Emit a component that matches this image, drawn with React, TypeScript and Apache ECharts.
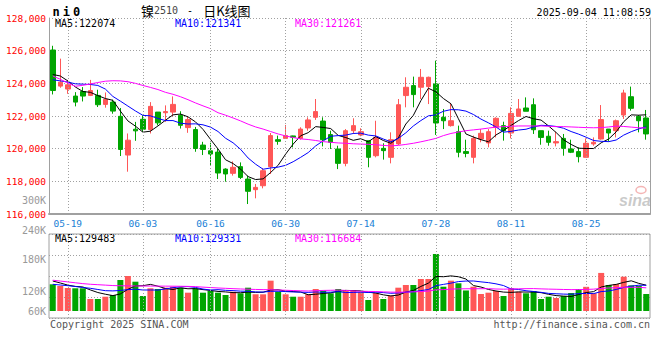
import React, { useEffect, useRef } from 'react';
import * as echarts from 'echarts';

// ---------- data ----------
const dates = ['05-15','05-16','05-19','05-20','05-21','05-22','05-23','05-26','05-27','05-28','05-29','05-30',
  '06-03','06-04','06-05','06-06','06-09','06-10','06-11','06-12','06-13','06-16','06-17','06-18','06-19','06-20',
  '06-23','06-24','06-25','06-26','06-27','06-30','07-01','07-02','07-03','07-04','07-07','07-08','07-09','07-10',
  '07-11','07-14','07-15','07-16','07-17','07-18','07-21','07-22','07-23','07-24','07-25','07-28','07-29','07-30',
  '07-31','08-01','08-04','08-05','08-06','08-07','08-08','08-11','08-12','08-13','08-14','08-15','08-18','08-19',
  '08-20','08-21','08-22','08-25','08-26','08-27','08-28','08-29','09-01','09-02','09-03','09-04'];

const opens = [126040,123830,123650,123220,123500,123260,123260,122710,122850,121980,
  119610,121190,121800,121170,122240,122200,122240,122040,121290,121170,
  120220,119870,119790,118750,118490,118900,118140,117490,117730,118900,
  120550,120630,120780,120630,121270,121920,121690,120860,119980,119100,
  121100,120840,120490,119570,120020,119470,120290,123250,123860,123760,
  123800,123960,121920,121410,121040,119820,119470,120590,120350,121310,
  121410,120960,121980,122490,122690,121100,120760,120350,120630,119980,
  119820,119470,120290,120590,121200,121100,122060,123180,121980,121880];

const closes = [123560,124070,123910,122850,123220,123560,122690,123020,122300,119950,
  120520,121090,121190,122590,121580,122270,122710,121430,121780,120010,
  119950,119670,118510,118450,118860,118240,117390,117630,118650,120800,
  120450,120800,120700,121200,121760,122270,120550,120390,119100,121100,
  121410,121040,119470,120690,119880,120550,122690,123760,123310,124370,
  124370,121570,121710,121710,119780,119710,120630,120940,121040,121860,
  121100,122160,122430,122290,121160,120690,120390,120430,120020,119780,
  119510,120330,120390,121780,120960,121710,123410,122470,121710,120900];

const lows = [123320,123730,123360,122590,122890,123220,122550,122510,122140,119550,
  118590,120480,121030,120930,121430,121640,121980,121230,120970,119810,
  119610,119000,118140,117980,118350,118140,116610,116960,117570,118450,
  120240,120590,120080,120550,121100,121760,120140,119980,118750,118920,
  120900,120760,118860,119470,119330,119100,120220,122530,122530,123040,
  122730,120840,121200,121350,119470,119470,119100,120390,120080,120690,
  120490,120630,121980,122290,120900,120240,120180,120140,119570,119730,
  119160,119470,120180,120550,120430,120690,121820,122330,121000,120550];

const highs = [126300,125510,124210,123460,123770,124210,123610,123440,123000,122490,
  120930,121640,122040,122850,122240,122650,123200,122290,121940,121330,
  120420,120360,120010,118800,119220,119160,118350,117840,118800,120960,
  120800,121450,120800,121310,121920,123040,121920,121100,120180,121200,
  121860,121250,120490,121710,120330,121000,123040,124370,124410,124880,
  124410,125390,122430,122800,121410,120550,120800,121200,121200,121920,
  121650,122530,123040,123140,123080,121100,121100,121040,120900,120550,
  120080,120630,120690,122670,121200,121780,123610,123800,122060,122370];

const ma5 = [124540,124450,124150,123780,123500,123450,123250,123070,122960,122300,
  121700,121380,121010,121070,121390,121740,122070,122120,121950,121640,
  121180,120570,119980,119320,119090,118750,118290,118110,118150,118540,
  118980,119670,120280,120790,120980,121350,121300,121230,120810,120680,
  120510,120610,120420,120740,120500,120330,120660,121510,122040,122940,
  123700,123480,123070,122750,121830,120900,120710,120550,120420,120840,
  121110,121420,121720,121970,121830,121750,121390,120990,120540,120260,
  120030,120010,120010,120360,120590,121030,121650,122070,122050,122074];

const ma10 = [124220,124150,124080,123970,123950,123930,123870,123650,123200,122910,
  122610,122310,122040,122010,121850,121720,121720,121560,121510,121520,
  121460,121320,121050,120640,120360,119960,119430,119050,118740,118820,
  118870,118980,119200,119470,119760,120170,120480,120760,120800,120830,
  120930,120950,120830,120780,120590,120420,120630,120970,121390,121720,
  122010,122070,122290,122390,122380,122300,122090,121810,121580,121330,
  121010,121060,121140,121190,121330,121430,121410,121360,121250,121050,
  120890,120700,120500,120450,120430,120530,120830,121040,121210,121341];

const ma30 = [124450,124250,124020,123820,123880,123960,124050,124130,124160,124150,
  124100,124000,123870,123750,123620,123450,123330,123180,123000,122800,
  122620,122450,122200,122050,121880,121700,121500,121330,121200,121050,
  120900,120780,120680,120600,120560,120500,120430,120390,120350,120330,
  120300,120280,120265,120240,120200,120170,120200,120260,120330,120420,
  120520,120630,120800,120930,121020,121100,121150,121200,121260,121320,
  121350,121370,121390,121390,121390,121390,121370,121350,121350,121330,
  121310,121290,121280,121290,121330,121380,121360,121320,121280,121261];

// volumes in thousands (K)
const volumes = [122.4,118.5,113.8,113.1,113.1,88.1,88.1,93.4,97.4,132.5,
  141.8,128.5,95.1,113.1,111.4,114.5,116.8,114.5,102.8,113.1,
  102.8,106.8,102.8,97.4,105.1,101.4,114.5,99.0,99.0,130.9,
  105.1,99.0,93.4,93.4,99.0,111.4,107.5,101.4,111.4,109.1,
  109.1,104.0,85.7,102.0,88.1,96.0,114.5,120.8,120.8,134.8,
  134.8,193.3,116.8,130.9,124.8,108.0,116.8,99.7,102.8,106.8,
  95.1,113.1,105.1,101.4,106.8,88.1,93.4,90.4,95.1,102.0,
  111.4,116.5,101.4,149.0,120.8,123.1,140.2,120.0,118.8,99.7];

const volMa5 = [130.1,125.5,120.5,117.5,116.2,109.3,103.2,99.2,96.0,99.9,
  110.6,118.7,119.1,122.2,118.0,112.5,110.2,114.1,112.0,112.3,
  110.0,108.0,105.7,104.6,103.0,102.7,104.2,103.5,103.8,109.0,
  109.7,106.6,105.5,104.4,98.0,99.2,100.9,102.5,106.1,108.2,
  107.7,107.0,103.9,102.0,97.8,95.2,97.3,104.3,108.0,117.4,
  125.1,140.9,140.1,142.1,140.1,134.8,119.5,116.0,110.4,106.8,
  104.2,103.5,104.6,104.3,104.3,102.9,99.0,96.0,94.8,93.8,
  98.5,103.1,105.3,116.1,119.8,122.2,126.9,130.6,124.6,120.4];

const volMa10 = [122.4,120.8,119.2,117.3,114.9,113.1,110.3,107.5,107.0,108.0,
  110.0,111.0,109.1,109.1,108.9,111.6,114.5,116.6,117.1,115.2,
  111.3,109.1,109.9,108.3,107.7,106.4,106.1,104.6,104.2,106.0,
  106.2,105.4,104.5,104.1,103.5,104.5,103.8,104.0,105.3,103.1,
  103.5,104.0,103.2,104.1,103.0,101.4,102.1,104.1,105.0,107.6,
  110.2,119.1,122.2,125.1,128.8,130.0,130.2,128.1,126.3,123.5,
  119.5,111.5,110.3,107.4,105.6,103.6,101.2,100.3,99.5,99.1,
  100.7,101.0,100.7,105.4,106.8,110.3,115.0,118.0,120.3,120.1];

const volMa30 = [132.0,130.0,128.0,126.0,124.0,122.5,121.5,120.5,119.5,119.0,
  118.7,118.5,118.4,118.3,118.2,118.1,118.0,117.8,117.5,117.0,
  115.8,114.8,113.8,113.0,112.2,111.5,110.9,110.4,110.0,109.7,
  109.1,108.5,107.8,107.2,106.7,107.5,108.1,108.4,108.8,108.1,
  107.0,106.2,105.8,105.5,104.7,104.1,104.0,104.2,104.8,105.5,
  106.6,109.5,110.0,111.1,111.7,112.0,112.0,112.1,112.2,111.4,
  111.0,111.5,111.9,112.2,112.4,111.7,111.2,110.8,110.3,110.0,
  110.1,110.5,111.1,112.6,113.7,114.6,115.5,115.4,115.4,114.2];

const gridDates = ['05-19','06-03','06-16','06-30','07-14','07-28','08-11','08-25'];
const priceLegend = ['MA5:122074', 'MA10:121341', 'MA30:121261'];
const volLegend = ['MA5:129483', 'MA10:129331', 'MA30:116684'];
const symbolText = ['n', 'i', '0'];
const titleText = ['镍', '2510', ' - ', '日K线图'];
const timeText = '2025-09-04 11:08:59';
const copyrightText = 'Copyright 2025 SINA.COM';
const urlText = 'http://finance.sina.com.cn';
const extraVolLabel = '300K';

// ---------- styles ----------
const UP = '#ff5757';
const DOWN = '#00a500';
const GRAY = '#a0a0a0';
const MONO = "'DejaVu Sans Mono', 'Liberation Mono', monospace";
const CJK = "'Noto Sans CJK SC', sans-serif";
const LINE_COLORS = ['#000000', '#0000ff', '#ff00ff'];
const DOT: number[] = [1, 2];

export default function App() {
  const ref = useRef<HTMLDivElement>(null);

  useEffect(() => {
    if (!ref.current) return;
    const chart = echarts.init(ref.current, undefined, { renderer: 'svg' });

    const candleData = dates.map((_, i) => [opens[i], closes[i], lows[i], highs[i]]);
    const volData = volumes.map((v, i) => ({
      value: v,
      itemStyle: { color: closes[i] >= opens[i] ? UP : DOWN },
    }));
    const blank = dates.map(() => null);
    const vMark = {
      silent: true,
      symbol: ['none', 'none'],
      label: { show: false },
      emphasis: { disabled: true },
      lineStyle: { color: GRAY, type: DOT, width: 1 },
      data: gridDates.map((d) => ({ xAxis: d })),
    };
    const maLine = (data: number[], color: string, xi: number, yi: number) => ({
      type: 'line',
      xAxisIndex: xi,
      yAxisIndex: yi,
      data,
      symbol: 'none',
      showSymbol: false,
      silent: true,
      z: 4,
      lineStyle: { color, width: 1 },
    });
    const legendTexts = (labels: string[], y: number) =>
      labels.map((t, k) => ({
        type: 'text',
        x: [55, 175, 295][k],
        y,
        silent: true,
        style: { text: t, fill: LINE_COLORS[k], fontFamily: MONO, fontSize: 10, verticalAlign: 'middle' },
      }));

    const option: any = {
      animation: false,
      backgroundColor: '#ffffff',
      grid: [
        { left: 49, top: 18, width: 601, height: 196 },
        { left: 49, top: 234, width: 601, height: 84, show: true, borderColor: GRAY, borderWidth: 1 },
        { left: 49, top: 234, width: 601, height: 77 },
      ],
      xAxis: [
        {
          type: 'category', gridIndex: 0, data: dates, boundaryGap: true,
          axisLine: { show: true, lineStyle: { color: GRAY, width: 2 } },
          axisTick: { show: false },
          splitLine: { show: false },
          axisLabel: {
            show: true,
            interval: (_i: number, v: string) => gridDates.includes(v),
            color: '#1a7fd6', fontFamily: MONO, fontSize: 9.5, margin: 4,
          },
        },
        {
          type: 'category', gridIndex: 1, data: dates, boundaryGap: true,
          axisLine: { show: false }, axisTick: { show: false }, axisLabel: { show: false }, splitLine: { show: false },
        },
        {
          type: 'category', gridIndex: 2, data: dates, boundaryGap: true,
          axisLine: { show: false }, axisTick: { show: false }, axisLabel: { show: false }, splitLine: { show: false },
        },
      ],
      yAxis: [
        {
          type: 'value', gridIndex: 0, min: 116000, max: 128000, interval: 2000,
          axisLine: { show: true, lineStyle: { color: GRAY, width: 1 } },
          axisTick: { show: false },
          axisLabel: { color: '#ff0000', fontFamily: MONO, fontSize: 9.5, margin: 3, showMinLabel: true, showMaxLabel: true },
          splitLine: { show: true, lineStyle: { color: GRAY, type: DOT, width: 1 } },
        },
        {
          type: 'value', gridIndex: 0, position: 'right', min: 116000, max: 128000, interval: 2000,
          axisLine: { show: true, lineStyle: { color: GRAY, width: 1 } },
          axisTick: { show: false }, axisLabel: { show: false }, splitLine: { show: false },
        },
        {
          type: 'value', gridIndex: 1, min: 0, max: 4, interval: 1,
          axisLine: { show: false }, axisTick: { show: false }, axisLabel: { show: false },
          splitLine: { show: true, lineStyle: { color: GRAY, type: DOT, width: 1 } },
        },
        {
          type: 'value', gridIndex: 2, min: 60, max: 240, interval: 60,
          axisLine: { show: false }, axisTick: { show: false }, splitLine: { show: false },
          axisLabel: {
            color: '#999999', fontFamily: MONO, fontSize: 10, margin: 3,
            showMinLabel: true, showMaxLabel: true,
            formatter: (v: number) => (v === 240 ? `{up|${v}K}` : v === 120 ? `{dn|${v}K}` : `${v}K`),
            rich: {
              up: { color: '#999999', fontFamily: MONO, fontSize: 10, padding: [0, 0, 8, 0] },
              dn: { color: '#999999', fontFamily: MONO, fontSize: 10, padding: [12, 0, 0, 0] },
            },
          },
        },
      ],
      series: [
        { type: 'line', xAxisIndex: 0, yAxisIndex: 0, data: blank, z: 1, silent: true, symbol: 'none', markLine: vMark },
        {
          type: 'candlestick', xAxisIndex: 0, yAxisIndex: 0, data: candleData, barWidth: 5, z: 3, silent: true,
          itemStyle: { color: UP, color0: DOWN, borderColor: UP, borderColor0: DOWN, borderWidth: 1 },
        },
        maLine(ma5, LINE_COLORS[0], 0, 0),
        maLine(ma10, LINE_COLORS[1], 0, 0),
        maLine(ma30, LINE_COLORS[2], 0, 0),
        { type: 'line', xAxisIndex: 1, yAxisIndex: 2, data: blank, z: 1, silent: true, symbol: 'none', markLine: vMark },
        { type: 'bar', xAxisIndex: 2, yAxisIndex: 3, data: volData, barWidth: 6, z: 3, silent: true },
        maLine(volMa5, LINE_COLORS[0], 2, 3),
        maLine(volMa10, LINE_COLORS[1], 2, 3),
        maLine(volMa30, LINE_COLORS[2], 2, 3),
      ],
      graphic: [
        {
          type: 'text', x: 51, y: 12, silent: true,
          style: {
            text: symbolText.map((c) => `{c|${c}}`).join(''),
            verticalAlign: 'middle',
            rich: { c: { fontFamily: MONO, fontSize: 12, fontWeight: 'bold', fill: '#000', lineHeight: 13, padding: [0, 1.5, 0, 1.5] } },
          },
        },
        {
          type: 'text', x: 141, y: 10, silent: true,
          style: {
            text: `{a|${titleText[0]}}{b|${titleText[1]}}{m|${titleText[2]}}{a|${titleText[3]}}`,
            verticalAlign: 'middle',
            rich: {
              a: { fontFamily: CJK, fontSize: 13, fill: '#000', lineHeight: 13 },
              b: { fontFamily: MONO, fontSize: 10, fill: '#444', lineHeight: 13 },
              m: { fontFamily: MONO, fontSize: 10, fill: '#000', lineHeight: 13, padding: [0, 4, 0, 3] },
            },
          },
        },
        {
          type: 'text', x: 651, y: 12, silent: true,
          style: { text: timeText, fill: '#000', fontFamily: MONO, fontSize: 10, align: 'right', verticalAlign: 'middle' },
        },
        ...legendTexts(priceLegend, 23.5),
        ...legendTexts(volLegend, 238.5),
        {
          type: 'text', x: 46, y: 200, silent: true,
          style: { text: extraVolLabel, fill: '#999999', fontFamily: MONO, fontSize: 10, align: 'right', verticalAlign: 'middle' },
        },
        {
          type: 'text', x: 50, y: 324, silent: true,
          style: { text: copyrightText, fill: '#555', fontFamily: MONO, fontSize: 10, verticalAlign: 'middle' },
        },
        {
          type: 'text', x: 650, y: 324, silent: true,
          style: { text: urlText, fill: '#555', fontFamily: MONO, fontSize: 10, align: 'right', verticalAlign: 'middle' },
        },
        {
          type: 'ellipse', silent: true, z: 0,
          shape: { cx: 641, cy: 190, rx: 5, ry: 3.5 },
          style: { fill: 'none', stroke: 'rgba(235,120,120,0.55)', lineWidth: 1.5 },
        },
        {
          type: 'text', x: 619, y: 200, silent: true, z: 0,
          style: {
            text: 'sina', fill: 'rgba(150,150,150,0.5)', fontFamily: "'Liberation Sans', sans-serif",
            fontSize: 16, fontWeight: 'bold', fontStyle: 'italic', verticalAlign: 'middle',
          },
        },
      ],
    };

    chart.setOption(option);
    return () => chart.dispose();
  }, []);

  return (
    <div
      ref={ref}
      style={{ position: 'absolute', left: 0, top: 0, width: 660, height: 360, background: '#fff' }}
    />
  );
}
